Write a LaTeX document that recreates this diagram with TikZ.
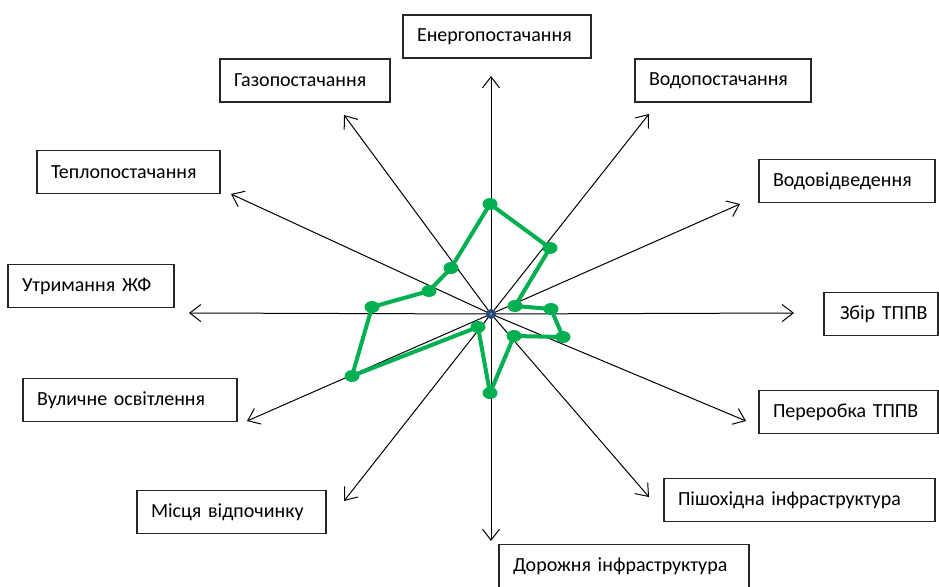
\documentclass[tikz,border=0pt]{standalone}
\usepackage{fontspec}
\setmainfont{Carlito}
\usetikzlibrary{arrows.meta,shapes.geometric}
\definecolor{grn}{HTML}{00B050}
\definecolor{ctr}{HTML}{24487A}
\tikzset{
  lbl/.style={draw=black!85, line width=1.1pt, fill=white, minimum height=43pt,
    inner xsep=14pt, inner ysep=0pt, align=left, font=\fontsize{20}{22}\selectfont},
  axis/.style={line width=1pt, -{Straight Barb[length=11pt,width=17pt,line width=1pt]}},
  poly/.style={grn, line width=4pt, line join=round},
  gdot/.style={ellipse, fill=grn, minimum width=15pt, minimum height=12pt, inner sep=0pt},
}
\begin{document}
\begin{tikzpicture}[x=1pt,y=-1pt]
\useasboundingbox (0,0) rectangle (939,586);
\coordinate (c) at (491,314);
% axis tips
\coordinate (tE) at (491,76);
\coordinate (tVp) at (649,114);
\coordinate (tVv) at (740,204);
\coordinate (tZ) at (794,313);
\coordinate (tP) at (746,421);
\coordinate (tPi) at (649,497);
\coordinate (tD) at (491,541);
\coordinate (tM) at (344,501);
\coordinate (tVo) at (247,421);
\coordinate (tU) at (189,313);
\coordinate (tT) at (231,194);
\coordinate (tG) at (344,115);
\foreach \t in {tE,tVp,tVv,tZ,tP,tPi,tD,tM,tVo,tU,tT,tG}
  \draw[axis] (c) -- (\t);
% labels
\node[lbl, text width=160pt] (nE) at (497,36.5) {Енергопостачання};
\node[lbl, text width=142pt] (nG) at (305,80.5) {Газопостачання};
\node[lbl, text width=148pt] (nVp) at (723,80.5) {Водопостачання};
\node[lbl, text width=155pt] (nT) at (128.5,172) {Теплопостачання};
\node[lbl, text width=148pt] (nVv) at (847,181) {Водовідведення};
\node[lbl, text width=138pt] (nU) at (91,286) {Утримання ЖФ};
\node[lbl, inner xsep=3pt, text width=108pt] (nZ) at (881,314) {\hspace*{13pt}Збір ТППВ};
\node[lbl, text width=186pt] (nVo) at (130,400) {Вуличне освітлення};
\node[lbl, text width=151pt] (nP) at (848.5,412) {Переробка ТППВ};
\node[lbl, text width=161pt] (nM) at (231.5,512) {Місця відпочинку};
\node[lbl, text width=243pt] (nPi) at (799.5,500) {Пішохідна інфраструктура};
\node[lbl, text width=222pt] (nD) at (624,566) {Дорожня інфраструктура};
% polygon
\coordinate (p1) at (490,204);
\coordinate (p2) at (550,248);
\coordinate (p3) at (515,306);
\coordinate (p4) at (551,309);
\coordinate (p5) at (563,337);
\coordinate (p6) at (514,336);
\coordinate (p7) at (490,393);
\coordinate (p8) at (478,327);
\coordinate (p9) at (352,376);
\coordinate (p10) at (372,307);
\coordinate (p11) at (429,291);
\coordinate (p12) at (451,268);
\draw[poly] (p1) -- (p2) -- (p3) -- (p4) -- (p5) -- (p6) -- (p7) -- (p8) -- (p9) -- (p10) -- (p11) -- (p12) -- cycle;
\foreach \p in {p1,p2,p3,p4,p5,p6,p7,p8,p9,p10,p11,p12}
  \node[gdot] (d\p) at (\p) {};
\node[circle, fill=ctr, minimum size=10pt, inner sep=0pt] (cd) at (c) {};
\fill[ctr!60!white] (c) circle (1.5pt);
\end{tikzpicture}
\end{document}
